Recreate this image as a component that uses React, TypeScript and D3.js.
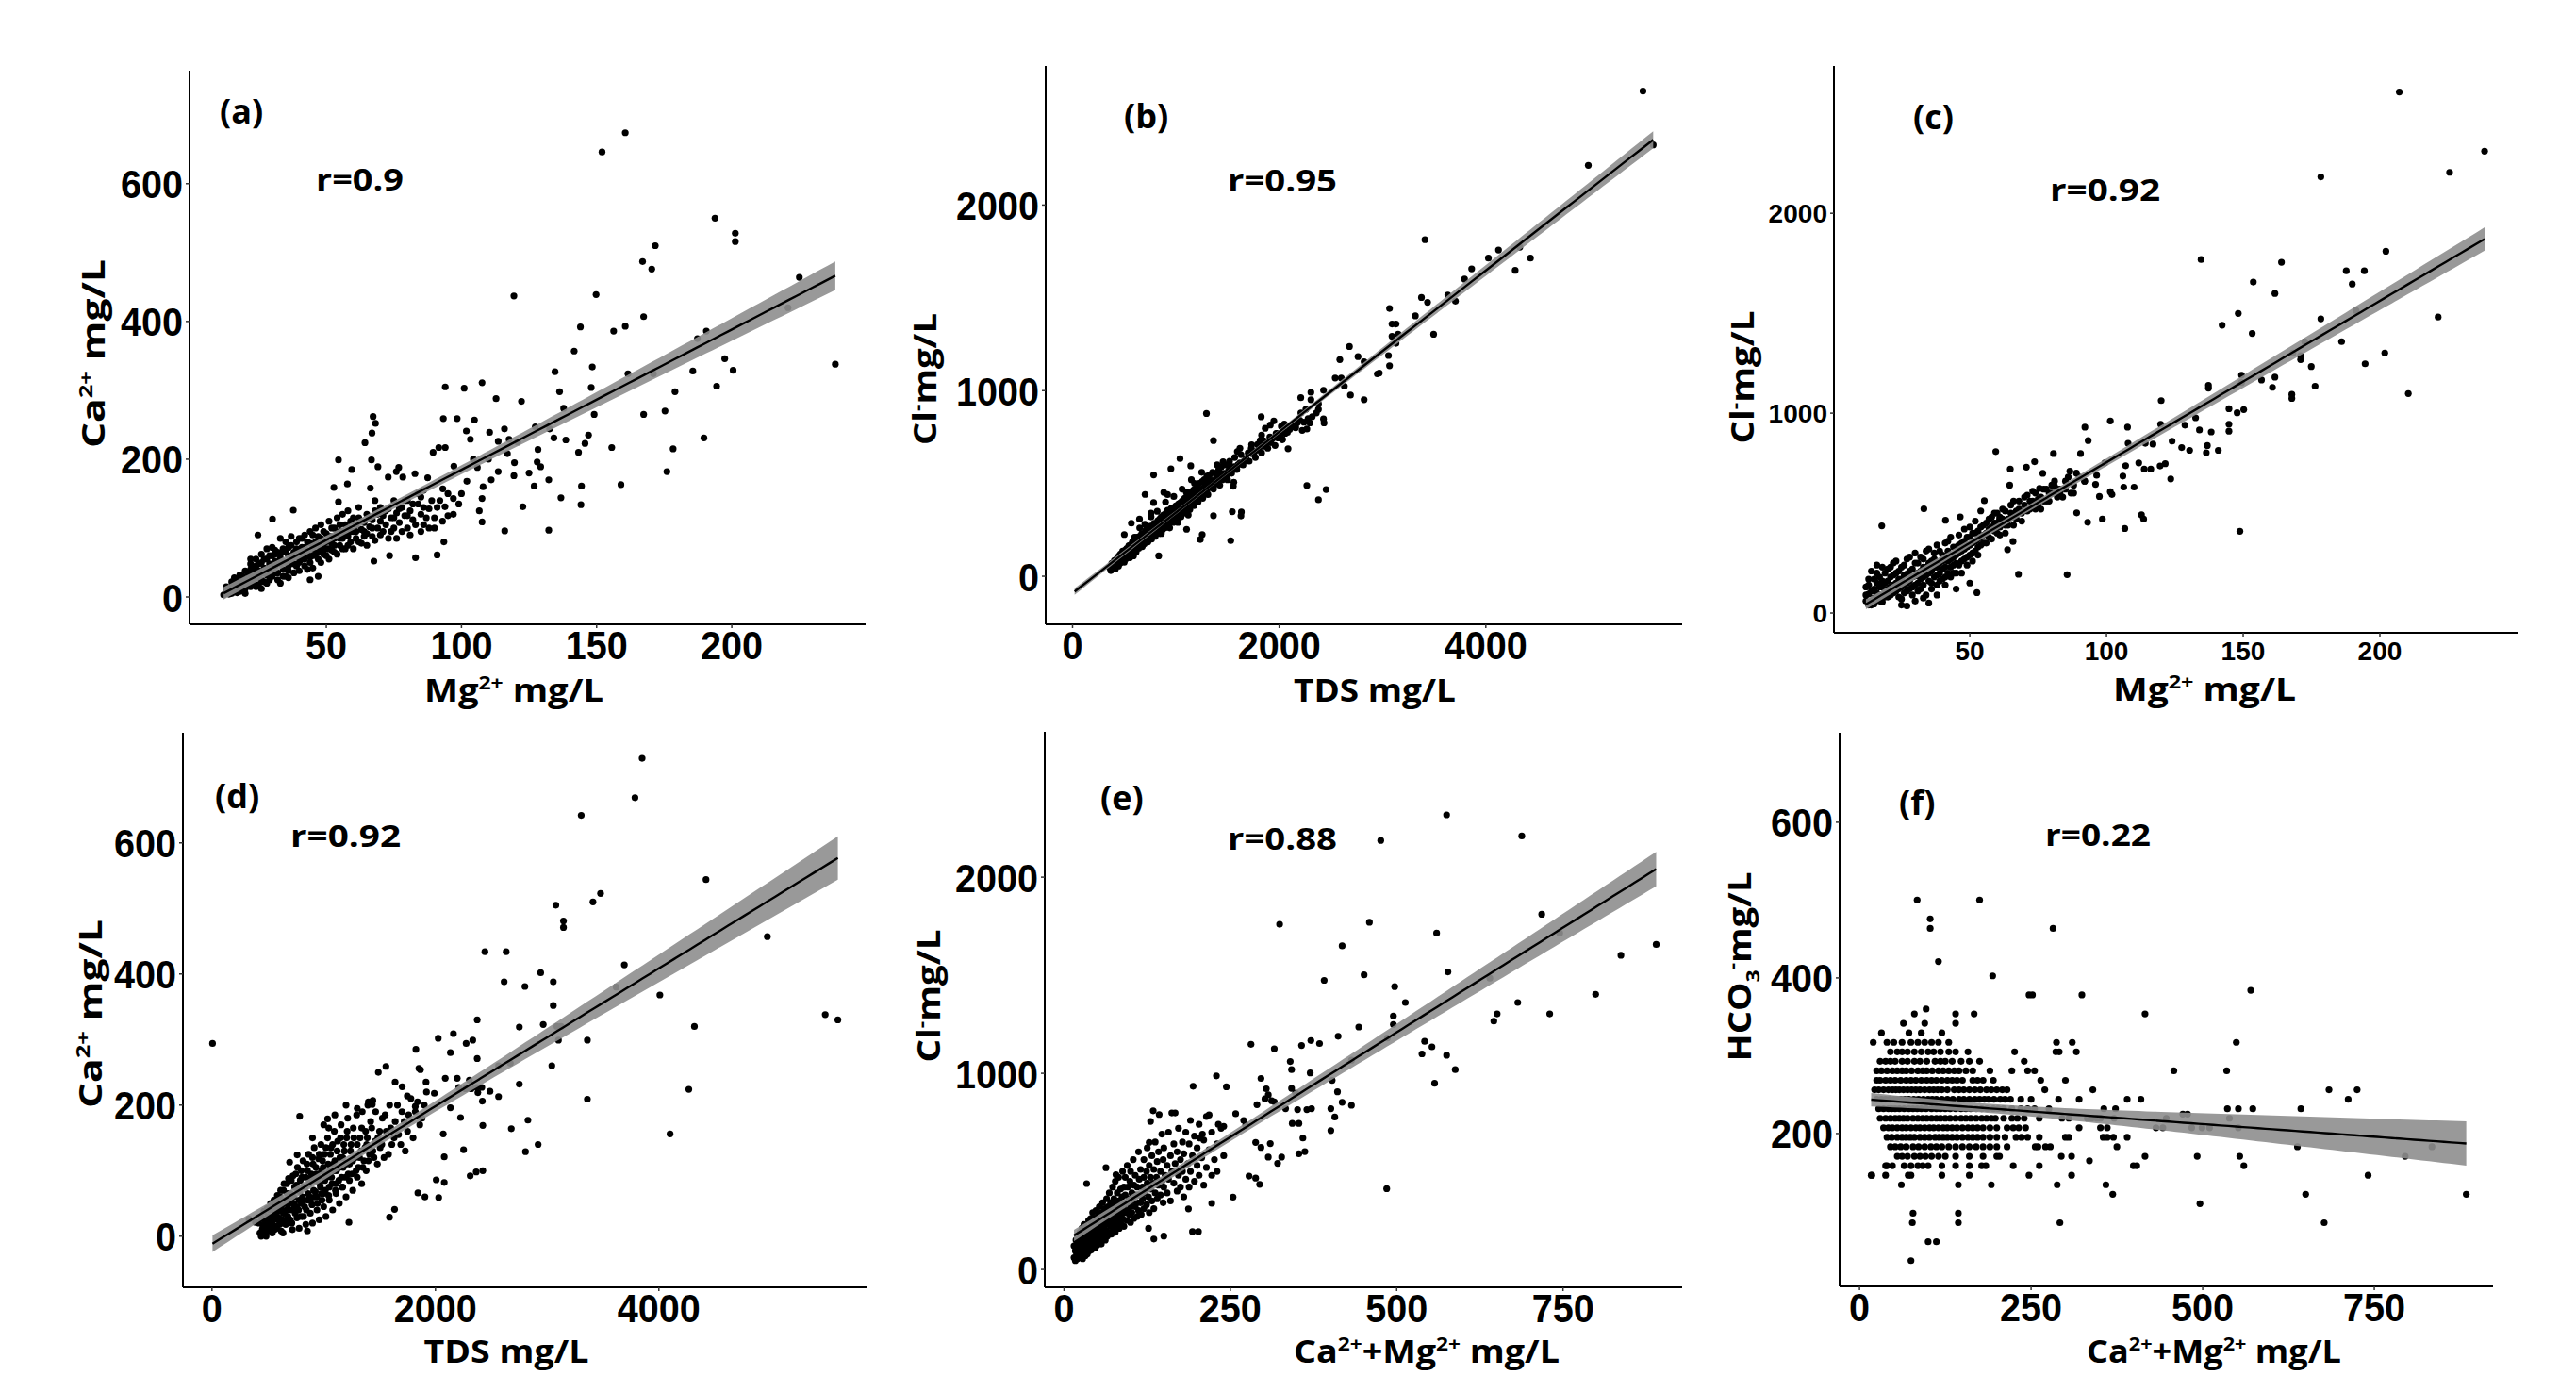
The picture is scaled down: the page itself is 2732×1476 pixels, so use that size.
import React from 'react';
import * as d3 from 'd3';

type Pt = [number, number];

// (a) Mg2+ vs Ca2+
const mgCaCore: Pt[] = [
  [12,3],[13,8],[14,12],[15,5],[15,15],[16,20],[16,10],[17,14],[17,25],[18,18],[18,8],[19,22],[19,30],[20,12],[20,26],[21,35],[21,18],[22,28],[22,40],[23,22],[23,33],[24,45],[24,15],[25,30],[25,38],[26,50],[26,25],[27,35],[27,42],[28,55],[28,20],[29,40],[29,48],[30,30],[30,60],[31,45],[31,52],[32,35],[32,65],[33,48],[33,56],[34,40],[34,70],[35,50],[35,30],[36,60],[36,45],[37,75],[37,55],[38,48],[38,65],[39,80],[39,58],[40,50],[40,68],[41,62],[41,85],[42,55],[42,72],[43,65],[43,40],[44,78],[44,58],[45,70],[45,90],[46,62],[46,80],[47,75],[47,55],[48,85],[48,68],[49,95],[49,72],[50,80],[50,60],[51,88],[51,70],[52,100],[52,78],[53,85],[53,65],[54,92],[55,75],[55,105],[56,85],[56,95],[57,70],[58,100],[58,88],[59,110],[59,80],[60,95],[61,105],[61,85],[62,115],[63,98],[63,78],[64,108],[65,92],[65,120],[66,102],[67,88],[67,112],[68,125],[69,100],[70,110],[70,90],[71,118],[72,105],[73,128],[74,95],[75,115],[76,122],[77,108],[78,130],[79,118],[80,100],[81,125],[82,112],[84,135],[85,120],[86,105],[88,128],[90,115],[92,140],
  [22,55],[28,70],[31,62],[36,28],[44,25],[47,30],[26,12],[33,20],
  [13,15],[14,4],[15,22],[16,28],[17,6],[18,32],[19,14],[20,38],[20,5],[21,24],[22,15],[22,48],[23,40],[24,28],[24,55],[25,18],[25,48],[26,35],[26,62],[27,22],[27,55],[28,40],[28,32],[29,60],[29,25],[30,45],[30,72],[31,35],[31,68],[32,50],[32,25],[33,62],[33,85],[34,52],[34,30],[35,65],[35,80],[36,38],[36,72],[37,50],[37,88],[38,60],[38,35],[39,70],[39,45],[40,85],[40,38],[41,55],[41,72],[42,90],[42,45],[43,60],[43,80],[44,50],[44,95],[45,60],[45,42],[46,75],[46,100],[47,65],[47,88],[48,50],[48,105],[49,62],[49,82],[50,92],[50,70],[51,55],[51,110],[52,68],[52,88],[53,100],[53,75],[54,62],[54,115],[55,85],[55,95],[56,70],[56,120],[57,90],[57,105],[58,75],[58,125],[59,95],[60,70],[60,115],[61,95],[62,80],[62,130],[63,110],[64,88],[64,95],[65,75],[66,115],[67,100],[68,82],[68,140],[69,120],[70,130],[71,95],[72,125],[73,85],[74,115],[75,100],[75,140],[76,85],[77,128],[78,95],[79,140],[80,118],[81,90],[82,135],[83,105],[84,150],[85,95],[86,130],[87,115],[89,140],[90,100],[91,130],[93,110],[95,150],[97,120],[99,135],
];
const mgCaSpread: Pt[] = [
  [160.6,674],[152,646],[193.8,550],[201.3,528],[201.3,516],[171.7,510],[167,487],[170.4,476],[225,464],[119.4,437],[149.8,439],[220.8,420],[167.4,407],[144,392],[160.6,393],[156.3,386],[190.6,386],[187.3,375],[141.7,357],[197.4,346],[238.3,338],[148.4,334],[200.5,329],[134.6,327],[161.6,324],[171,324],[185.6,328],[107.6,311],[94,305],[101,303],[194.4,306],[148,304],[136.3,298],[179,298],[112.8,288],[122.2,284],[137.8,274],[175.3,270],[149.1,265],[167.4,265],[67.3,262],[93.3,259],[98.4,259],[68.2,252],[104.8,257],[127.3,247],[115.9,244],[132.6,244],[101.8,241],[110.4,239],[66.9,238],[134.2,231],[147,235],[103.3,229],[138.6,228],[189.7,231],[113.6,226],[117.6,229],[145.7,223],[64.3,224],[120.8,225],[155.6,217],[91.6,217],[94,217],[128.3,214],[178.3,215],[143.3,210],[89.5,210],[66.7,199],[54.5,199],[104.4,200],[119.6,195],[97.2,190],[129.3,189],[105.9,188],[176,182],[76.8,188],[59.4,185],[69.1,189],[75.9,182],[82.8,179],[119.4,176],[72.9,174],[78.3,174],[87.5,173],[113.6,182],[144.4,161],[159,163],[126.9,161],[132.3,170],[52.8,159],[57.8,164],[66.3,158],[93.1,157],[107.6,143],[97,143],[136.8,144],[144.2,134],[122.7,131],[93.9,131],[106.6,125],[107.6,109],[116,96],[132.3,97],[83,57],[91,61],[67.6,52],[73.4,60],[93.5,80],[37.8,126],[30.1,113],[24.7,90],[54.5,138],[108,160],[100,150],[85,145],[88,100],[95,118],[102,168],[111,170],[125,180],[117,208],[86,155],[80,140],[110,200],[128,196],
];

// (b) TDS vs Cl-
const tdsClCore: Pt[] = [
  [360,46],[390,60],[410,52],[425,80],[440,75],[455,95],[470,88],[480,110],[495,100],[505,128],[515,112],[530,125],[540,140],[550,118],[560,150],[575,138],[585,160],[600,145],[610,172],[620,158],[635,175],[645,190],[655,168],[665,195],[680,182],[690,205],[700,190],[715,215],[725,200],[735,225],[750,212],[760,240],[770,222],[785,250],[795,235],[805,262],[815,245],[830,270],[840,255],[850,285],[865,262],[875,290],[885,272],[900,300],[910,280],[925,310],[935,292],[945,325],[960,300],[970,335],[980,315],[995,340],[1005,322],[1020,355],[1030,330],[1045,365],[1055,345],[1065,378],[1080,352],[1090,390],[1100,365],[1115,400],[1125,378],[1140,415],[1150,392],[1165,425],[1180,405],[1190,440],[1205,418],[1220,455],[1235,430],[1250,470],[1265,445],[1280,485],[1300,460],[1315,500],[1335,478],[1350,515],[1370,492],[1390,530],[1410,505],[1430,545],[1450,520],[1470,555],[1490,540],[1510,570],[1540,555],[1560,590],[1590,575],[1620,610],[1650,600],[1680,635],[1710,620],[1740,660],[1770,640],[1800,680],[1830,665],[1860,700],[1890,690],[1920,720],[1960,705],[1990,745],[2030,735],[2060,770],[2100,790],[2140,805],[2180,830],
  [600,210],[650,260],[700,280],[760,320],[820,350],[900,400],[980,430],[1060,470],[1150,520],[1250,560],[1180,500],[1300,540],[1400,600],[1100,455],[860,230],[940,260],[1020,290],[1120,330],
  [370,30],[380,70],[395,45],[405,85],[415,40],[420,62],[430,95],[445,55],[450,110],[460,70],[465,120],[475,80],[485,135],[490,95],[500,75],[510,140],[520,95],[525,150],[535,110],[545,165],[555,100],[565,170],[570,125],[580,185],[590,110],[595,150],[605,195],[615,130],[625,210],[630,175],[640,150],[650,215],[660,180],[670,230],[675,160],[685,225],[695,175],[705,245],[710,205],[720,260],[730,185],[740,250],[745,215],[755,270],[765,200],[775,260],[780,235],[790,285],[800,215],[810,275],[820,240],[825,300],[835,230],[845,310],[855,270],[860,320],[870,250],[880,330],[890,300],[895,260],[905,340],[915,290],[920,355],[930,275],[940,345],[950,300],[955,365],[965,320],[975,290],[985,370],[990,330],[1000,380],[1010,300],[1025,390],[1035,340],[1040,395],[1050,320],[1060,405],[1070,360],[1085,420],[1095,340],[1105,430],[1110,380],[1120,445],[1135,360],[1145,450],[1155,410],[1170,465],[1175,380],[1185,470],[1195,430],[1210,480],[1215,400],[1225,500],[1240,450],[1255,510],[1260,420],[1275,520],[1290,475],[1305,530],[1310,440],[1325,545],[1340,500],[1355,560],[1365,470],[1380,555],[1395,510],[1415,575],[1425,490],[1440,590],[1460,540],[1480,600],[1500,520],[1520,620],[1545,585],[1570,640],[1600,600],[1630,655],[1660,620],[1700,665],[1730,690],[1760,670],[1790,710],[1820,700],[1850,730],[1880,720],[1910,750],[1940,745],[1970,770],[2010,760],[2040,790],[2080,775],[2120,810],[2160,800],[2200,840],[2240,830],[2280,850],[2320,860],[2360,880],
];
const tdsClSpread: Pt[] = [
  [5521,2614],[5620,2324],[4992,2214],[3411,1813],[4329,1773],[4123,1758],[4025,1714],[4432,1714],[4284,1648],[3863,1656],[3794,1601],[3632,1515],[3706,1482],[3377,1502],[3436,1476],[3068,1443],[3318,1403],[3092,1359],[3131,1359],[3092,1293],[3151,1304],[3495,1304],[3131,1255],[2680,1238],[2587,1167],[2763,1183],[2822,1156],[3058,1189],[3068,1134],[2969,1095],[2950,1090],[2542,1068],[2601,1068],[2631,1024],[2690,976],[2822,951],[2429,1002],[2307,991],[2209,962],[2307,951],[2380,929],[2380,899],[2258,899],[2210,880],[2429,848],[2434,826],[2297,826],[2268,793],[2223,786],[1948,837],[1914,815],[1826,859],[2086,687],[1296,877],[1364,731],[2268,489],[2454,467],[2380,412],[1040,634],[952,579],[785,546],[1144,595],[702,441],[883,452],[920,440],[785,397],[648,308],[501,225],[569,286],[760,340],[834,110],[1531,192],[1237,198],[1255,225],[1104,253],[1364,326],[1546,348],[1634,346],[1630,325],[1561,507],[1556,485],[1595,672],[1620,690],[1733,709],[1816,731],[1865,797],[1830,760],[2032,738],[1980,770],[2020,808],[2050,820],[2160,815],[1521,595],[1457,617],[1420,562],[1445,528],
];

// (c) Mg2+ vs Cl-
const mgClCore: Pt[] = [
  [12,130],[12,60],[13,95],[13,170],[14,40],[14,210],[15,120],[15,75],[16,150],[16,240],[17,90],[17,180],[18,130],[18,55],[19,200],[19,110],[20,160],[20,80],[21,230],[21,130],[22,190],[22,100],[23,150],[23,260],[24,120],[24,210],[25,170],[25,70],[26,240],[26,140],[27,195],[27,110],[28,280],[28,160],[29,220],[29,130],[30,185],[30,300],[31,150],[31,250],[32,210],[32,120],[33,270],[33,180],[34,230],[34,90],[35,320],[35,200],[36,260],[36,150],[37,230],[37,300],[38,190],[38,340],[39,250],[39,160],[40,290],[40,220],[41,350],[41,180],[42,260],[42,310],[43,230],[43,380],[44,280],[44,200],[45,330],[45,250],[46,390],[46,300],[47,260],[47,350],[48,420],[48,320],[49,280],[49,380],[50,340],[50,430],[51,300],[51,400],[52,360],[52,460],[53,330],[53,410],[54,380],[55,440],[55,350],[56,400],[57,470],[57,380],[58,430],[59,500],[59,410],[60,450],[61,390],[61,480],[62,520],[63,440],[64,470],[65,540],[66,480],[67,510],[68,560],[69,500],[70,540],[71,590],[72,520],[73,560],[74,600],[75,540],[76,580],[77,620],[78,560],[79,600],[80,640],[82,580],[83,620],[85,660],[87,600],[88,640],[90,680],
  [25,40],[30,60],[35,50],[27,35],[33,75],[38,90],[45,120],[50,150],
  [12,90],[13,40],[13,140],[14,110],[14,60],[15,170],[15,45],[16,100],[16,200],[17,130],[17,60],[18,160],[18,230],[19,80],[19,150],[20,120],[20,220],[21,90],[21,180],[22,140],[22,250],[23,110],[23,200],[24,80],[24,170],[25,130],[25,230],[26,100],[26,190],[27,150],[27,270],[28,120],[28,210],[29,90],[29,180],[30,140],[30,250],[31,200],[31,110],[32,170],[32,280],[33,140],[33,230],[34,190],[34,310],[35,160],[35,250],[36,120],[36,210],[37,180],[37,270],[38,230],[38,140],[39,200],[39,310],[40,170],[40,260],[41,230],[41,140],[42,200],[42,360],[43,270],[43,180],[44,240],[44,330],[45,200],[45,290],[46,240],[46,340],[47,310],[47,200],[48,270],[48,360],[49,330],[49,240],[50,290],[50,380],[51,350],[51,260],[52,310],[52,400],[53,370],[53,290],[54,340],[54,430],[55,390],[56,350],[56,450],[57,420],[58,370],[58,480],[59,450],[60,400],[60,500],[61,430],[62,470],[63,510],[63,400],[64,440],[65,500],[66,440],[66,560],[67,470],[68,520],[69,460],[70,580],[71,510],[72,560],[73,610],[74,520],[75,570],[76,520],[77,560],[78,620],[79,560],[80,600],[81,660],[82,620],[84,580],[85,620],[86,680],[88,600],[89,700],[92,660],
];
const mgClSpread: Pt[] = [
  [207.1,2607],[238.3,2311],[225.5,2205],[178.4,2182],[202.2,1810],[134.6,1769],[164,1755],[187.7,1712],[194.3,1712],[153.7,1656],[189.9,1646],[161.6,1599],[148.2,1499],[191.3,1513],[178.4,1472],[221.3,1481],[142.3,1440],[153.3,1399],[186,1358],[172.5,1358],[168.2,1301],[201.8,1301],[171,1288],[171,1268],[194.6,1247],[174.9,1233],[176.3,1135],[210.4,1098],[149.4,1190],[149.4,1153],[156.7,1166],[161.6,1180],[160.7,1129],[137.3,1139],[137.3,1125],[167.8,1094],[167.8,1074],[120,1063],[150.2,1018],[147.8,1002],[144.8,1022],[101.4,961],[92.1,930],[107.7,930],[132.6,977],[128.7,940],[134,916],[144.8,945],[144.8,910],[138.3,906],[119.8,945],[93.3,863],[107.9,849],[114.2,849],[124,860],[117,845],[136.9,838],[140.9,814],[136.5,802],[127.5,828],[130.4,814],[59.5,808],[80.6,798],[90.5,798],[73.7,757],[99.4,751],[111.8,751],[107,737],[64.8,720],[70.7,730],[86.6,710],[121.5,747],[119.6,736],[116.2,720],[113.8,720],[123.5,671],[96.4,689],[96,644],[106,685],[106.3,630],[110.1,630],[101.4,607],[102,593],[92,660],[97.4,583],[64.6,640],[76.7,699],[75.5,624],[83,599],[81,634],[89.1,501],[93.1,454],[98.5,470],[106.7,423],[112.8,491],[113.6,470],[148.8,409],[85.6,192],[67.8,194],[55.3,562],[54,511],[60.9,470],[63.8,317],[52.6,102],[33.2,521],[41.1,464],[46.5,481],[17.8,436],[65.8,358],
];

// (d) TDS vs Ca2+
const tdsCaCore: Pt[] = [
  [450,10],[470,25],[480,5],[500,30],[510,15],[520,40],[540,20],[550,45],[560,10],[570,35],[580,55],[590,25],[600,45],[610,60],[620,20],[630,40],[640,70],[650,35],[660,55],[670,80],[680,30],[690,50],[700,65],[710,85],[720,40],[730,60],[740,75],[750,95],[760,45],[770,70],[780,55],[790,85],[800,100],[810,60],[820,75],[830,45],[840,90],[850,110],[860,65],[870,80],[880,55],[890,95],[900,120],[910,70],[920,85],[930,105],[940,60],[950,90],[960,125],[970,75],[980,100],[990,115],[1000,65],[1010,85],[1020,135],[1030,95],[1040,110],[1050,75],[1060,125],[1070,90],[1080,140],[1090,100],[1100,115],[1110,80],[1120,130],[1140,105],[1150,150],[1160,90],[1170,120],[1180,140],[1200,110],[1210,160],[1220,95],[1240,130],[1260,115],[1270,150],[1290,100],[1300,140],[1320,120],[1340,165],[1350,105],[1370,135],[1390,150],[1400,115],[1420,175],[1440,130],[1460,145],[1480,110],[1500,160],[1520,140],[1550,185],[1580,125],[1600,165],[1630,150],[1660,200],[1690,140],[1720,175],[1750,160],[1780,210],[1820,190],[1860,170],[1900,200],
  [900,150],[1000,170],[1100,185],[1200,200],[1300,195],[1400,205],
  [420,20],[430,5],[445,28],[455,12],[465,38],[475,18],[485,0],[495,42],[505,25],[515,8],[525,50],[535,30],[545,12],[555,55],[565,28],[575,15],[585,62],[595,38],[605,18],[615,70],[625,48],[635,25],[645,80],[655,50],[665,22],[675,65],[685,88],[695,40],[705,55],[715,20],[725,92],[735,50],[745,35],[755,78],[765,105],[775,40],[785,68],[795,30],[805,90],[815,115],[825,55],[835,75],[845,40],[855,100],[865,125],[875,60],[885,88],[895,48],[905,110],[915,135],[925,68],[935,95],[945,50],[955,118],[965,80],[975,140],[985,55],[995,105],[1005,125],[1015,70],[1025,90],[1035,150],[1045,62],[1055,100],[1065,135],[1075,80],[1085,110],[1095,160],[1105,70],[1115,100],[1125,145],[1135,85],[1145,120],[1155,170],[1165,75],[1175,105],[1185,130],[1195,90],[1205,150],[1215,180],[1230,110],[1245,140],[1255,95],[1265,165],[1280,120],[1295,185],[1310,105],[1325,150],[1335,130],[1345,190],[1360,115],[1375,160],[1385,140],[1395,200],[1410,125],[1430,165],[1450,120],[1465,190],[1485,150],[1505,135],[1525,180],[1540,120],[1560,160],[1590,200],[1610,140],[1640,175],[1670,155],[1700,190],[1730,130],[1760,185],[1800,150],[1840,205],[1880,180],[1920,220],
  [440,0],[460,15],[490,8],[520,22],[540,5],[560,30],[580,12],[600,28],[620,8],[640,35],[660,18],[680,42],[700,25],[720,10],[740,45],[760,28],[780,12],[800,50],[820,30],[840,18],[860,55],[880,35],[900,20],[920,60],[940,40],[960,25],[980,65],[1000,45],[1020,30],[1050,55],[1080,40],[1110,65],[1140,50],[1170,75],[1200,60],[1230,85],[1260,70],[1300,90],[1340,80],[1380,100],
];
const tdsCaSpread: Pt[] = [
  [3850,729],[3786,669],[3305,642],[4422,544],[3478,523],[3410,510],[3078,505],[3146,481],[3146,471],[4971,457],[2443,434],[2633,434],[3691,414],[2942,402],[3618,380],[2801,381],[2615,388],[3055,388],[4009,368],[3055,352],[5489,338],[5602,330],[2374,330],[2751,319],[2965,323],[3087,320],[3124,320],[4318,320],[5,294],[3360,299],[3101,299],[2025,302],[2161,309],[2275,294],[2334,299],[2134,280],[1825,285],[2374,271],[2565,260],[2670,264],[3042,260],[1557,259],[1852,256],[1866,254],[1489,250],[2088,241],[2370,227],[2751,232],[3360,209],[4268,224],[2195,241],[2304,238],[2209,227],[2270,225],[2320,225],[2415,227],[2488,221],[2380,219],[2420,206],[2565,213],[1916,235],[1639,235],[1702,228],[1748,214],[1820,198],[1435,201],[1440,207],[1990,218],[2134,196],[2225,181],[4100,156],[2828,177],[2679,164],[2424,169],[2806,129],[2919,140],[2424,100],[2365,98],[2311,92],[2252,132],[2070,156],[2079,121],[2007,86],[2079,82],[2029,59],[1843,66],[1906,60],[1589,29],[1634,41],[1226,21],[785,183],[1035,179],[1045,165],[763,124],[695,113],[331,26],[390,21],[854,8],[636,5],
];

// (e) Ca2+ + Mg2+ vs Cl-
const hardClCore: Pt[] = [
  [15,60],[15,120],[17,95],[17,45],[18,150],[19,80],[19,110],[20,55],[20,170],[22,130],[22,90],[23,60],[24,190],[24,110],[25,75],[25,140],[27,100],[27,210],[28,55],[28,160],[29,125],[30,90],[30,190],[30,230],[32,140],[32,70],[33,170],[33,110],[35,210],[35,80],[35,150],[36,120],[37,250],[37,175],[38,95],[38,140],[40,200],[40,130],[40,260],[41,100],[42,165],[42,230],[43,120],[43,290],[45,185],[45,140],[45,220],[46,260],[47,110],[47,200],[48,300],[48,160],[50,230],[50,175],[50,125],[51,270],[52,145],[52,210],[53,320],[53,185],[55,250],[55,160],[55,215],[56,290],[56,130],[57,195],[58,340],[58,240],[60,175],[60,280],[60,220],[61,310],[62,150],[62,250],[63,200],[64,360],[64,280],[65,230],[65,170],[66,320],[67,260],[67,190],[68,390],[68,300],[70,220],[70,340],[70,270],[71,180],[72,310],[72,250],[73,420],[74,280],[74,210],[75,360],[75,240],[76,320],[77,450],[77,190],[78,270],[78,340],[80,300],[80,230],[80,390],[81,260],[82,350],[82,470],[83,210],[84,320],[84,280],[85,410],[85,240],[87,370],[87,300],[88,500],[88,260],[90,330],[90,420],[90,220],[91,290],[92,380],[92,470],[94,250],[94,340],[95,530],[95,300],[96,420],[98,360],[98,280],[99,450],[100,320],[100,240],[100,500],[102,390],[102,290],[104,560],[104,350],[105,260],[105,430],[107,320],[107,480],[108,380],[110,270],[110,420],[110,340],[112,600],[112,300],[113,460],[113,380],[115,340],[115,510],[116,280],[118,420],[118,360],[120,560],[120,310],[120,470],[122,390],[124,330],[124,500],[125,440],[125,620],[127,370],[128,290],[128,530],[130,410],[130,470],[132,350],[132,580],[134,440],[135,310],[135,510],[137,650],[137,390],[139,470],[140,360],[140,550],[142,430],[142,600],[145,500],[145,380],[147,690],[147,450],[149,340],[149,560],[150,420],[150,620],[152,480],[155,390],[155,530],[157,700],[157,460],[160,580],[160,350],[162,500],[165,440],[165,640],[167,540],[170,400],[170,600],[172,480],[172,720],[175,560],[175,420],[178,650],[178,500],[180,370],[180,590],[183,460],[183,700],[186,540],[188,420],[188,640],[190,500],[190,760],[193,580],[196,450],[196,680],[200,530],[200,620],[203,480],[203,740],[207,570],[210,430],[210,660],[214,520],[214,780],[218,610],[222,480],[222,700],[226,560],[230,640],[230,500],[236,720],[240,580],
];
const hardClSpread: Pt[] = [
  [575,2318],[476,2187],[688,2210],[890,1657],[745,1715],[718,1811],[459,1770],[324,1760],[418,1650],[560,1715],[837,1602],[451,1502],[577,1517],[391,1474],[640,1485],[497,1442],[799,1403],[682,1361],[513,1361],[730,1303],[651,1303],[646,1266],[495,1292],[495,1249],[443,1236],[412,1189],[486,1180],[542,1163],[553,1135],[538,1099],[575,1092],[557,949],[588,1019],[371,1167],[384,1152],[357,1142],[281,1148],[316,1125],[340,1060],[342,1019],[432,1067],[370,1002],[403,964],[411,906],[432,837],[401,820],[418,852],[407,777],[401,708],[485,412],[348,899],[342,923],[229,987],[194,934],[244,931],[296,974],[304,921],[307,890],[302,870],[290,840],[312,860],[316,855],[333,820],[351,815],[365,815],[372,820],[353,745],[343,745],[359,670],[362,601],[321,541],[327,573],[353,590],[270,760],[273,735],[218,788],[258,794],[232,740],[208,690],[204,670],[240,730],[288,648],[296,622],[310,642],[307,573],[278,476],[288,466],[294,434],[254,369],[222,337],[187,309],[193,193],[202,193],[134,809],[130,755],[143,790],[162,798],[167,798],[128,648],[34,438],[63,519],[78,483],[135,155],[127,210],[150,170],
];

// (f) Ca2+ + Mg2+ vs HCO3- (values sit on 12.2 mg/L steps)
const hardHco3Core: Pt[] = [
  [40,195.2],[55,195.2],[68,195.2],[80,195.2],[95,195.2],[110,195.2],[122,195.2],[135,195.2],[150,195.2],[165,195.2],[180,195.2],[200,195.2],[228,195.2],[245,195.2],[262,195.2],
  [35,207.4],[48,207.4],[62,207.4],[75,207.4],[88,207.4],[102,207.4],[115,207.4],[128,207.4],[142,207.4],[158,207.4],[172,207.4],[190,207.4],[215,207.4],[232,207.4],
  [30,219.6],[45,219.6],[58,219.6],[70,219.6],[85,219.6],[98,219.6],[112,219.6],[125,219.6],[140,219.6],[155,219.6],[170,219.6],[185,219.6],[198,219.6],[222,219.6],[240,219.6],
  [28,231.8],[42,231.8],[52,231.8],[65,231.8],[78,231.8],[90,231.8],[105,231.8],[118,231.8],[132,231.8],[148,231.8],[162,231.8],[178,231.8],[195,231.8],[210,231.8],[235,231.8],[255,231.8],
  [25,244],[38,244],[50,244],[60,244],[72,244],[86,244],[100,244],[112,244],[128,244],[145,244],[160,244],[175,244],[188,244],[205,244],[220,244],[250,244],
  [22,256.2],[35,256.2],[48,256.2],[58,256.2],[70,256.2],[82,256.2],[95,256.2],[108,256.2],[120,256.2],[138,256.2],[152,256.2],[168,256.2],[185,256.2],[200,256.2],[215,256.2],
  [30,268.4],[45,268.4],[60,268.4],[75,268.4],[90,268.4],[105,268.4],[120,268.4],[135,268.4],[150,268.4],[180,268.4],[195,268.4],
  [25,280.6],[40,280.6],[55,280.6],[68,280.6],[85,280.6],[98,280.6],[115,280.6],[130,280.6],[145,280.6],[165,280.6],[190,280.6],[245,280.6],
  [38,292.8],[52,292.8],[70,292.8],[88,292.8],[110,292.8],[125,292.8],[148,292.8],[175,292.8],
  [45,305],[62,305],[80,305],[100,305],[118,305],[140,305],[158,305],
  [20,317.2],[50,317.2],[75,317.2],[95,317.2],[115,317.2],[130,317.2],
  [32,329.4],[72,329.4],[90,329.4],[120,329.4],
  [45,183],[60,183],[78,183],[95,183],[112,183],[130,183],[150,183],[170,183],[190,183],[215,183],
  [55,170.8],[70,170.8],[88,170.8],[105,170.8],[125,170.8],[160,170.8],[200,170.8],
  [40,158.6],[65,158.6],[85,158.6],[100,158.6],[140,158.6],[178,158.6],
  [18,146.4],[75,146.4],[120,146.4],[160,146.4],
  [64,341.6],[95,341.6],[140,341.6],
  [47,195.2],[62,195.2],[74,195.2],[88,195.2],[102,195.2],[116,195.2],[128,195.2],[142,195.2],[158,195.2],[172,195.2],[190,195.2],[212,195.2],[236,195.2],
  [42,207.4],[55,207.4],[68,207.4],[82,207.4],[95,207.4],[108,207.4],[122,207.4],[135,207.4],[150,207.4],[165,207.4],[180,207.4],[200,207.4],[224,207.4],[242,207.4],
  [38,219.6],[52,219.6],[64,219.6],[78,219.6],[92,219.6],[105,219.6],[118,219.6],[132,219.6],[148,219.6],[162,219.6],[178,219.6],[192,219.6],[210,219.6],[230,219.6],
  [35,231.8],[47,231.8],[58,231.8],[72,231.8],[84,231.8],[97,231.8],[112,231.8],[125,231.8],[140,231.8],[155,231.8],[170,231.8],[186,231.8],[202,231.8],[222,231.8],[245,231.8],
  [32,244],[44,244],[55,244],[66,244],[79,244],[93,244],[106,244],[120,244],[136,244],[152,244],[168,244],[182,244],[196,244],[212,244],[235,244],
  [28,256.2],[42,256.2],[53,256.2],[64,256.2],[76,256.2],[88,256.2],[102,256.2],[114,256.2],[128,256.2],[145,256.2],[160,256.2],[176,256.2],[192,256.2],[208,256.2],
  [25,268.4],[38,268.4],[52,268.4],[68,268.4],[82,268.4],[98,268.4],[112,268.4],[128,268.4],[142,268.4],[165,268.4],[172,268.4],
  [32,280.6],[48,280.6],[62,280.6],[76,280.6],[92,280.6],[106,280.6],[122,280.6],[138,280.6],[155,280.6],
  [30,292.8],[45,292.8],[62,292.8],[80,292.8],[98,292.8],[118,292.8],[135,292.8],[160,292.8],
  [55,305],[70,305],[90,305],[108,305],[130,305],
  [52,183],[68,183],[86,183],[104,183],[120,183],[140,183],[160,183],[180,183],[200,183],
  [62,170.8],[80,170.8],[96,170.8],[115,170.8],[140,170.8],[180,170.8],
  [48,158.6],[75,158.6],[92,158.6],[120,158.6],[160,158.6],
  [40,317.2],[62,317.2],[85,317.2],[105,317.2],
];
const hardHco3Spread: Pt[] = [
  [84,500.2],[175,500.2],[103,475.8],[103,463.6],[282,463.6],[115,421],[194,402.6],[247,378.2],[252,378.2],[324,378.2],[570,384],[97,360],[80,353.8],[140,353.8],[167,353.8],[416,353.8],[549,317.2],[287,317.2],[310,317.2],[286,305],[291,305],[316,305],[226,305],[458,280.6],[535,280.6],[725,256.2],[684,256.2],[712,244],[643,231.8],[573,231.8],[552,231.8],[536,231.8],[478,225],[471,225],[447,219.6],[432,207.4],[442,207.4],[484,207.4],[499,207.4],[510,207.4],[539,219.6],[552,207.4],[638,183],[834,183],[795,170.8],[741,146.4],[884,122],[650,122],[677,85.4],[496,109.8],[492,170.8],[554,170.8],[560,158.6],[416,170.8],[390,195.2],[399,158.6],[404,158.6],[375,183],[355,195.2],[361,195.2],[370,195.2],[351,207.4],[361,207.4],[346,219.6],[351,219.6],[371,219.6],[356,231.8],[373,231.8],[340,256.2],[390,244],[410,244],[332,219.6],[338,219.6],[320,207.4],[309,170.8],[294,170.8],[309,146.4],[288,134.2],[292,85.4],[359,134.2],[369,122],[335,165],[305,195.2],[300,195.2],[295,219.6],[305,219.6],[278,183],[256,183],[260,183],[271,183],[247,146.4],[262,158.6],[224,158.6],[204,170.8],[184,158.6],[192,134.2],[144,134.2],[144,97.6],[144,85.4],[78,97.6],[77,85.4],[100,61],[112,61],[75,36.6],[17,146.4],[38,158.6],[38,146.4],[61,134.2],[71,146.4],[276,231.8],[290,244],[320,244],[264,268.4],[270,256.2],[300,268.4],[255,280.6],[240,292.8],[222,280.6],[262,219.6],
];

const rValues = ['r=0.9', 'r=0.95', 'r=0.92', 'r=0.92', 'r=0.88', 'r=0.22'];

// least squares line with 95% confidence band (like geom_smooth(method = lm))
function lmBand(pts: Pt[], from?: number) {
  const n = pts.length;
  const mx = d3.mean(pts, (d) => d[0]) as number;
  const my = d3.mean(pts, (d) => d[1]) as number;
  const sxx = d3.sum(pts, (d) => (d[0] - mx) ** 2);
  const sxy = d3.sum(pts, (d) => (d[0] - mx) * (d[1] - my));
  const b = sxy / sxx;
  const a = my - b * mx;
  const sse = d3.sum(pts, (d) => (d[1] - a - b * d[0]) ** 2);
  const s = Math.sqrt(sse / (n - 2));
  let [x0, x1] = d3.extent(pts, (d) => d[0]) as [number, number];
  if (from !== undefined) x0 = from;
  return d3.range(0, 81).map((i) => {
    const x = x0 + ((x1 - x0) * i) / 80;
    const yh = a + b * x;
    const se = s * Math.sqrt(1 / n + (x - mx) ** 2 / sxx);
    return { x, y: yh, lo: yh - 1.96 * se, hi: yh + 1.96 * se };
  });
}

type Seg = [string, 'n' | 'sup' | 'sub'];

function segs(list: Seg[], size: number) {
  let cur = 0;
  return list.map(([t, k], i) => {
    const target = k === 'sup' ? -size * 0.38 : k === 'sub' ? size * 0.25 : 0;
    const dy = target - cur;
    cur = target;
    return (
      <tspan key={i} dy={dy} fontSize={k === 'n' ? size : size * 0.6}>{t}</tspan>
    );
  });
}

const titleFont = "'Open Sans', 'DejaVu Sans', sans-serif";
const tickFont = "'Liberation Sans', Arial, sans-serif";

const mgTitle: Seg[] = [['Mg', 'n'], ['2+', 'sup'], [' mg/L', 'n']];
const caTitle: Seg[] = [['Ca', 'n'], ['2+', 'sup'], [' mg/L', 'n']];
const clTitle: Seg[] = [['Cl', 'n'], ['-', 'sup'], ['mg/L', 'n']];
const tdsTitle: Seg[] = [['TDS mg/L', 'n']];
const hardTitle: Seg[] = [['Ca', 'n'], ['2+', 'sup'], ['+Mg', 'n'], ['2+', 'sup'], [' mg/L', 'n']];
const hcoTitle: Seg[] = [['HCO', 'n'], ['3', 'sub'], ['-', 'sup'], ['mg/L', 'n']];

type Spec = {
  pts: Pt[];
  fitFrom?: number;
  xDomain: [number, number];
  yDomain: [number, number];
  box: { l: number; r: number; t: number; b: number };
  xTicks: number[];
  yTicks: number[];
  small?: boolean;
  letter: [string, number, number];
  r: [number, number, number];
  xTitle: Seg[];
  xTitlePos: [number, number, number];
  yTitle: Seg[];
  yTitlePos: [number, number, number];
};

const specs: Spec[] = [
  {
    pts: [...mgCaCore, ...mgCaSpread],
    xDomain: [-0.6, 249.5], yDomain: [-39.7, 764],
    box: { l: 201, r: 918, t: 75, b: 662 },
    xTicks: [50, 100, 150, 200], yTicks: [0, 200, 400, 600],
    letter: ['(a)', 233, 131], r: [335, 202, 93],
    xTitle: mgTitle, xTitlePos: [545, 744, 190],
    yTitle: caTitle, yTitlePos: [111, 375, 200],
  },
  {
    pts: [...tdsClCore, ...tdsClSpread], fitFrom: 20,
    xDomain: [-260, 5900], yDomain: [-259, 2749],
    box: { l: 1109, r: 1784, t: 70, b: 662 },
    xTicks: [0, 2000, 4000], yTicks: [0, 1000, 2000],
    letter: ['(b)', 1192, 136], r: [1302, 203, 116],
    xTitle: tdsTitle, xTitlePos: [1458, 744, 172],
    yTitle: clTitle, yTitlePos: [993, 402, 140],
  },
  {
    pts: [...mgClCore, ...mgClSpread],
    xDomain: [0.3, 250.7], yDomain: [-99, 2737],
    box: { l: 1945, r: 2671, t: 70, b: 671 },
    xTicks: [50, 100, 150, 200], yTicks: [0, 1000, 2000], small: true,
    letter: ['(c)', 2029, 137], r: [2174, 213, 117],
    xTitle: mgTitle, xTitlePos: [2338, 743, 194],
    yTitle: clTitle, yTitlePos: [1860, 400, 141],
  },
  {
    pts: [...tdsCaCore, ...tdsCaSpread],
    xDomain: [-260, 5867], yDomain: [-78, 768],
    box: { l: 194, r: 920, t: 777, b: 1365 },
    xTicks: [0, 2000, 4000], yTicks: [0, 200, 400, 600],
    letter: ['(d)', 228, 857], r: [308, 898, 117],
    xTitle: tdsTitle, xTitlePos: [537, 1445, 175],
    yTitle: caTitle, yTitlePos: [108, 1075, 200],
  },
  {
    pts: [...hardClCore, ...hardClSpread],
    xDomain: [-29, 929], yDomain: [-91, 2741],
    box: { l: 1108, r: 1784, t: 776, b: 1365 },
    xTicks: [0, 250, 500, 750], yTicks: [0, 1000, 2000],
    letter: ['(e)', 1167, 859], r: [1302, 901, 116],
    xTitle: hardTitle, xTitlePos: [1513, 1445, 282],
    yTitle: clTitle, yTitlePos: [997, 1056, 141],
  },
  {
    pts: [...hardHco3Core, ...hardHco3Spread],
    xDomain: [-29, 923], yDomain: [3.6, 715],
    box: { l: 1951, r: 2644, t: 777, b: 1364 },
    xTicks: [0, 250, 500, 750], yTicks: [200, 400, 600],
    letter: ['(f)', 2014, 864], r: [2169, 897, 112],
    xTitle: hardTitle, xTitlePos: [2348, 1445, 270],
    yTitle: hcoTitle, yTitlePos: [1857, 1025, 201],
  },
];

const ts = 34;

function Panel({ spec, rText }: { spec: Spec; rText: string }) {
  const { box } = spec;
  const x = d3.scaleLinear().domain(spec.xDomain).range([box.l, box.r]);
  const y = d3.scaleLinear().domain(spec.yDomain).range([box.b, box.t]);
  const fit = lmBand(spec.pts, spec.fitFrom);
  const area = d3.area<{ x: number; lo: number; hi: number }>()
    .x((d) => x(d.x)).y0((d) => y(d.lo)).y1((d) => y(d.hi));
  const line = d3.line<{ x: number; y: number }>().x((d) => x(d.x)).y((d) => y(d.y));

  const fs = spec.small ? 27 : 43;
  const digitW = spec.small ? 15.6 : 22;
  const capHalf = spec.small ? 9.5 : 15.5;
  const xLabDy = spec.small ? 29 : 37;

  return (
    <g>
      {spec.pts.map((d, i) => (
        <circle key={i} cx={x(d[0])} cy={y(d[1])} r={3.6} fill="#000" />
      ))}
      <path d={area(fit) || ''} fill="#8e8e8e" opacity={0.9} />
      <path d={line(fit) || ''} fill="none" stroke="#000" strokeWidth={2.4} />

      <line x1={box.l} x2={box.l} y1={box.t} y2={box.b} stroke="#000" strokeWidth={2} />
      <line x1={box.l} x2={box.r} y1={box.b} y2={box.b} stroke="#000" strokeWidth={2} />

      {spec.yTicks.map((t) => (
        <g key={'y' + t}>
          <line x1={box.l - 4} x2={box.l} y1={y(t)} y2={y(t)} stroke="#333" strokeWidth={1.5} />
          <text x={box.l - 7} y={y(t) + capHalf} textAnchor="end" fontFamily={tickFont}
            fontWeight="bold" fontSize={fs} textLength={String(t).length * digitW}
            lengthAdjust="spacingAndGlyphs">{t}</text>
        </g>
      ))}
      {spec.xTicks.map((t) => (
        <g key={'x' + t}>
          <line x1={x(t)} x2={x(t)} y1={box.b} y2={box.b + 4} stroke="#333" strokeWidth={1.5} />
          <text x={x(t)} y={box.b + xLabDy} textAnchor="middle" fontFamily={tickFont}
            fontWeight="bold" fontSize={fs} textLength={String(t).length * digitW}
            lengthAdjust="spacingAndGlyphs">{t}</text>
        </g>
      ))}

      <text x={spec.letter[1]} y={spec.letter[2]} fontFamily={titleFont} fontWeight="bold"
        fontSize={36}>{spec.letter[0]}</text>
      <text x={spec.r[0]} y={spec.r[1]} fontFamily={titleFont} fontWeight="bold" fontSize={33}
        textLength={spec.r[2]} lengthAdjust="spacingAndGlyphs">{rText}</text>

      <text x={spec.xTitlePos[0]} y={spec.xTitlePos[1]} textAnchor="middle" fontFamily={titleFont}
        fontWeight="bold" fontSize={ts} textLength={spec.xTitlePos[2]}
        lengthAdjust="spacingAndGlyphs">{segs(spec.xTitle, ts)}</text>
      <text transform={`translate(${spec.yTitlePos[0]},${spec.yTitlePos[1]}) rotate(-90)`}
        textAnchor="middle" fontFamily={titleFont} fontWeight="bold" fontSize={ts}
        textLength={spec.yTitlePos[2]} lengthAdjust="spacingAndGlyphs">{segs(spec.yTitle, ts)}</text>
    </g>
  );
}

export default function App() {
  return (
    <svg width={2732} height={1476} style={{ position: 'absolute', left: 0, top: 0, background: '#fff' }}>
      <rect width={2732} height={1476} fill="#fff" />
      {specs.map((s, i) => (
        <Panel key={i} spec={s} rText={rValues[i]} />
      ))}
    </svg>
  );
}
